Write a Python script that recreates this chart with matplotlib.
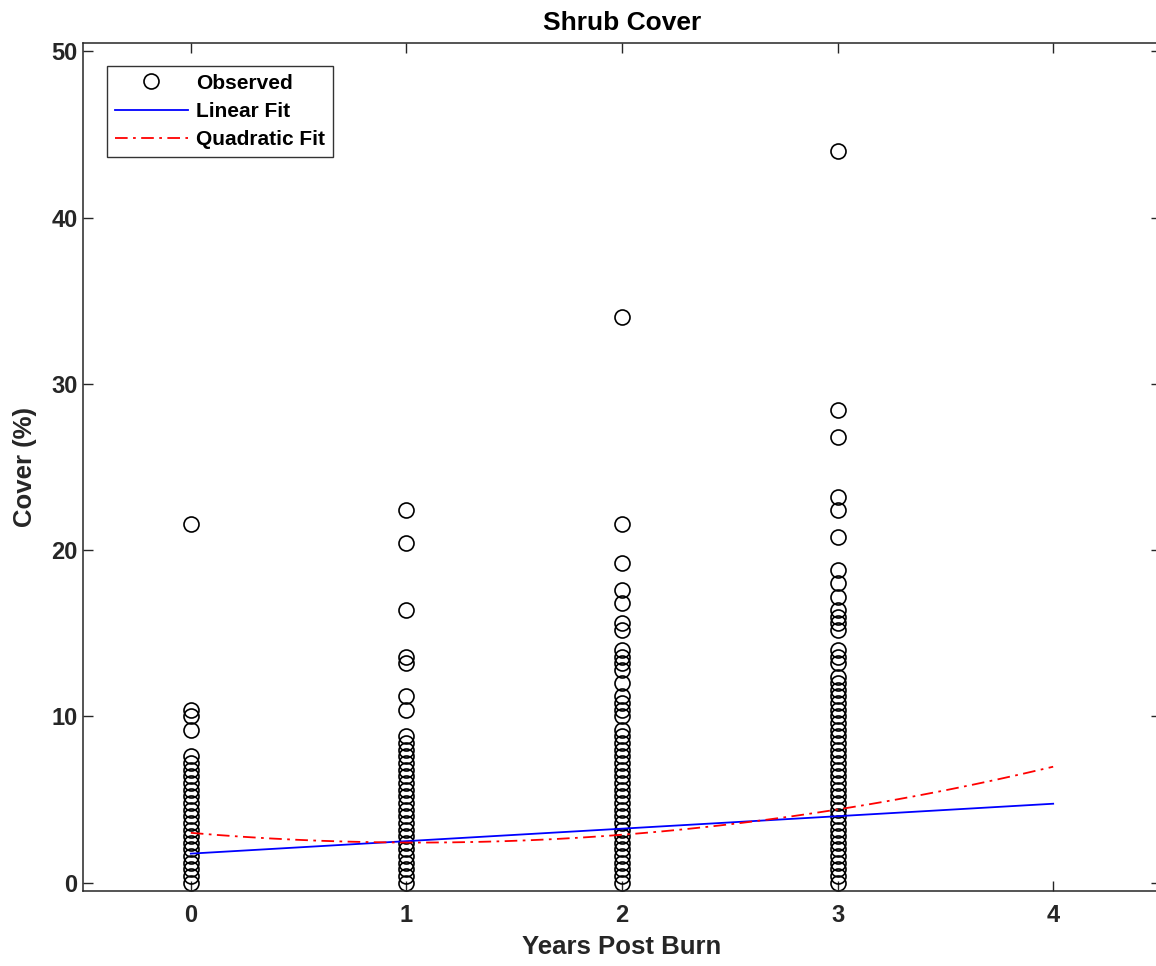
import matplotlib
matplotlib.use("Agg")
import matplotlib.pyplot as plt
import numpy as np

plt.rcParams['font.family'] = ['Liberation Sans', 'DejaVu Sans']
plt.rcParams['font.weight'] = 'bold'

year0 = [0.0, 0.4, 0.8, 1.2, 1.6, 2.0, 2.4, 2.8, 3.2, 3.6, 4.0, 4.4, 4.8, 5.2, 5.6, 6.0,
         6.4, 6.8, 7.2, 7.6, 9.2, 10.0, 10.4, 21.6]
year1 = [0.0, 0.4, 0.8, 1.2, 1.6, 2.0, 2.4, 2.8, 3.2, 3.6, 4.0, 4.4, 4.8, 5.2, 5.6, 6.0,
         6.4, 6.8, 7.2, 7.6, 8.0, 8.4, 8.8, 10.4, 11.2, 13.2, 13.6, 16.4, 20.4, 22.4]
year2 = [0.0, 0.4, 0.8, 1.2, 1.6, 2.0, 2.4, 2.8, 3.2, 3.6, 4.0, 4.4, 4.8, 5.2, 5.6, 6.0,
         6.4, 6.8, 7.2, 7.6, 8.0, 8.4, 8.8, 9.2, 10.0, 10.4, 10.8, 11.2, 12.0, 12.8, 13.2,
         13.6, 14.0, 15.2, 15.6, 16.8, 17.6, 19.2, 21.6, 34.0]
year3 = [0.0, 0.4, 0.8, 1.2, 1.6, 2.0, 2.4, 2.8, 3.2, 3.6, 4.0, 4.4, 4.8, 5.2, 5.6, 6.0,
         6.4, 6.8, 7.2, 7.6, 8.0, 8.4, 8.8, 9.2, 9.6, 10.0, 10.4, 10.8, 11.2, 11.6, 12.0,
         12.4, 13.2, 13.6, 14.0, 15.2, 15.6, 16.0, 16.4, 17.2, 18.0, 18.8, 20.8, 22.4,
         23.2, 26.8, 28.4, 44.0]
observed = {0: year0, 1: year1, 2: year2, 3: year3}

# fitted coefficients (constant, x, x^2) as they appear on the plot
linear_coef = [1.75, 0.75]
quad_coef = [3.0, -1.11, 0.526]
fit_range = (0, 4)

fig = plt.figure(figsize=(11.56, 9.66), dpi=100)
ax = fig.add_axes([0.0718, 0.0776, 0.9325, 0.878])

xs, ys = [], []
for yr, vals in observed.items():
    xs += [yr] * len(vals)
    ys += vals
ax.plot(xs, ys, 'o', mfc='none', mec='black', ms=10.8, mew=1.2, label='Observed')

xf = np.linspace(fit_range[0], fit_range[1], 200)
ax.plot(xf, linear_coef[0] + linear_coef[1] * xf, color='blue', lw=1.3, label='Linear Fit')
ax.plot(xf, quad_coef[0] + quad_coef[1] * xf + quad_coef[2] * xf ** 2, color='red', lw=1.3,
        ls=(0, (7, 3, 1.5, 3)), label='Quadratic Fit')

ax.set_xlim(-0.5, 4.5)
ax.set_ylim(-0.5, 50.5)
ax.set_xticks([0, 1, 2, 3, 4])
ax.set_yticks([0, 10, 20, 30, 40, 50])
ax.tick_params(direction='in', length=7, width=1.0, top=True, right=True,
               labelsize=17, colors='#262626')
ax.tick_params(axis='x', pad=9)
ax.tick_params(axis='y', pad=4)
for lab in ax.get_xticklabels() + ax.get_yticklabels():
    lab.set_fontweight('bold')
for s in ax.spines.values():
    s.set_color('#262626')
    s.set_linewidth(1.1)

ax.set_title('Shrub Cover', fontsize=19, fontweight='bold', pad=9)
ax.set_xlabel('Years Post Burn', fontsize=18.5, fontweight='bold', color='#262626', labelpad=6)
ax.set_ylabel('Cover (%)', fontsize=18.5, fontweight='bold', color='#262626', labelpad=10)

leg = ax.legend(loc='upper left', bbox_to_anchor=(0.0223, 0.973), borderaxespad=0,
                fontsize=15, frameon=True, fancybox=False, edgecolor='black',
                handlelength=3.5, borderpad=0.38, labelspacing=0.44, handletextpad=0.4)
leg.get_frame().set_linewidth(1.0)

fig.savefig('out.png', dpi=100)
